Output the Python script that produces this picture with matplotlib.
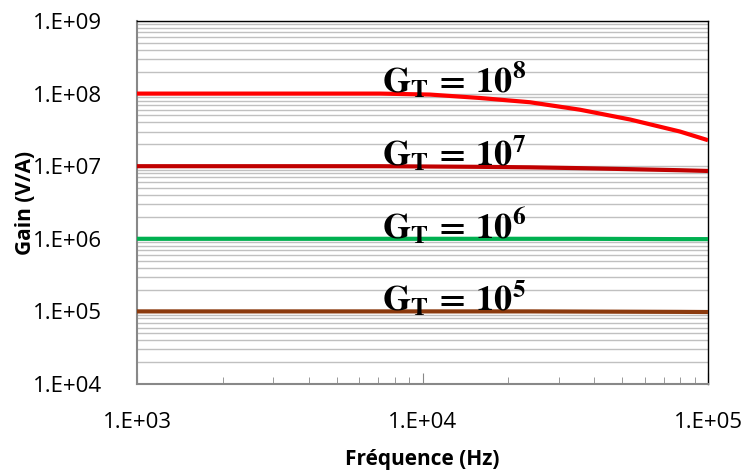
import matplotlib
matplotlib.use("Agg")
import matplotlib.pyplot as plt
from matplotlib.ticker import LogLocator, FixedLocator, NullFormatter

plt.rcParams["font.family"] = ["Open Sans", "DejaVu Sans"]
plt.rcParams["mathtext.fontset"] = "stix"

# frequency points (Hz)
freq = [1e3, 2e3, 5e3, 7.1e3, 1.06e4, 1.59e4, 2.38e4, 3.56e4, 5.33e4, 7.98e4, 1e5]

# gain curves (V/A)
gain_1e8 = [1e8, 1e8, 1e8, 1e8, 9.7e7, 8.7e7, 7.6e7, 6.0e7, 4.4e7, 3.0e7, 2.28e7]
gain_1e7 = [1e7, 1e7, 1e7, 1e7, 9.9e6, 9.8e6, 9.65e6, 9.4e6, 9.1e6, 8.8e6, 8.6e6]
gain_1e6 = [1e6, 1e6, 1e6, 1e6, 1e6, 1e6, 1e6, 1e6, 9.95e5, 9.9e5, 9.9e5]
gain_1e5 = [1e5, 1e5, 1e5, 1e5, 1e5, 1e5, 1e5, 9.95e4, 9.9e4, 9.85e4, 9.8e4]

curves = [gain_1e8, gain_1e7, gain_1e6, gain_1e5]
colors = ["#ff0000", "#c00000", "#00b050", "#8b3a0e"]
labels = [r"$\mathbf{G_T\,=\,10^8}$", r"$\mathbf{G_T\,=\,10^7}$",
          r"$\mathbf{G_T\,=\,10^6}$", r"$\mathbf{G_T\,=\,10^5}$"]
label_y = [1.45e8, 1.45e7, 1.45e6, 1.45e5]

fig = plt.figure(figsize=(7.45, 4.76), dpi=100)
ax = fig.add_axes([137 / 745, 1 - 384 / 476, 571 / 745, 363 / 476])

for g, c in zip(curves, colors):
    ax.plot(freq, g, color=c, lw=3, solid_capstyle="butt",
            solid_joinstyle="round", zorder=3)

for lab, y in zip(labels, label_y):
    ax.text(7.2e3, y, lab, fontsize=26, ha="left", va="center", zorder=4)

ax.set_xscale("log")
ax.set_yscale("log")
ax.set_xlim(1e3, 1e5)
ax.set_ylim(1e4, 1e9)

ax.xaxis.set_major_locator(FixedLocator([1e3, 1e4, 1e5]))
ax.xaxis.set_minor_locator(LogLocator(base=10, subs=range(2, 10)))
ax.xaxis.set_minor_formatter(NullFormatter())
ax.set_xticklabels(["1.E+03", "1.E+04", "1.E+05"])
ax.yaxis.set_major_locator(FixedLocator([1e4, 1e5, 1e6, 1e7, 1e8, 1e9]))
ax.yaxis.set_minor_locator(LogLocator(base=10, subs=range(2, 10)))
ax.yaxis.set_minor_formatter(NullFormatter())
ax.set_yticklabels(["1.E+04", "1.E+05", "1.E+06", "1.E+07", "1.E+08", "1.E+09"])

ax.grid(True, which="both", axis="y", color="#c0c0c0", lw=1)
ax.set_axisbelow(True)

ax.tick_params(axis="x", which="major", direction="in", length=8, color="#888888",
               labelsize=16, pad=20)
ax.tick_params(axis="x", which="minor", direction="in", length=5, color="#888888")
ax.tick_params(axis="y", which="both", length=0, labelsize=16, pad=25)

for side in ["left", "bottom"]:
    ax.spines[side].set_color("#888888")
    ax.spines[side].set_linewidth(1.5)
for side in ["top", "right"]:
    ax.spines[side].set_color("black")
    ax.spines[side].set_linewidth(1)

ax.set_xlabel("Fréquence (Hz)", fontsize=15, fontweight="bold", labelpad=12)
ax.set_ylabel("Gain (V/A)", fontsize=15, fontweight="bold", labelpad=-2)

fig.savefig("out.png", dpi=100)
